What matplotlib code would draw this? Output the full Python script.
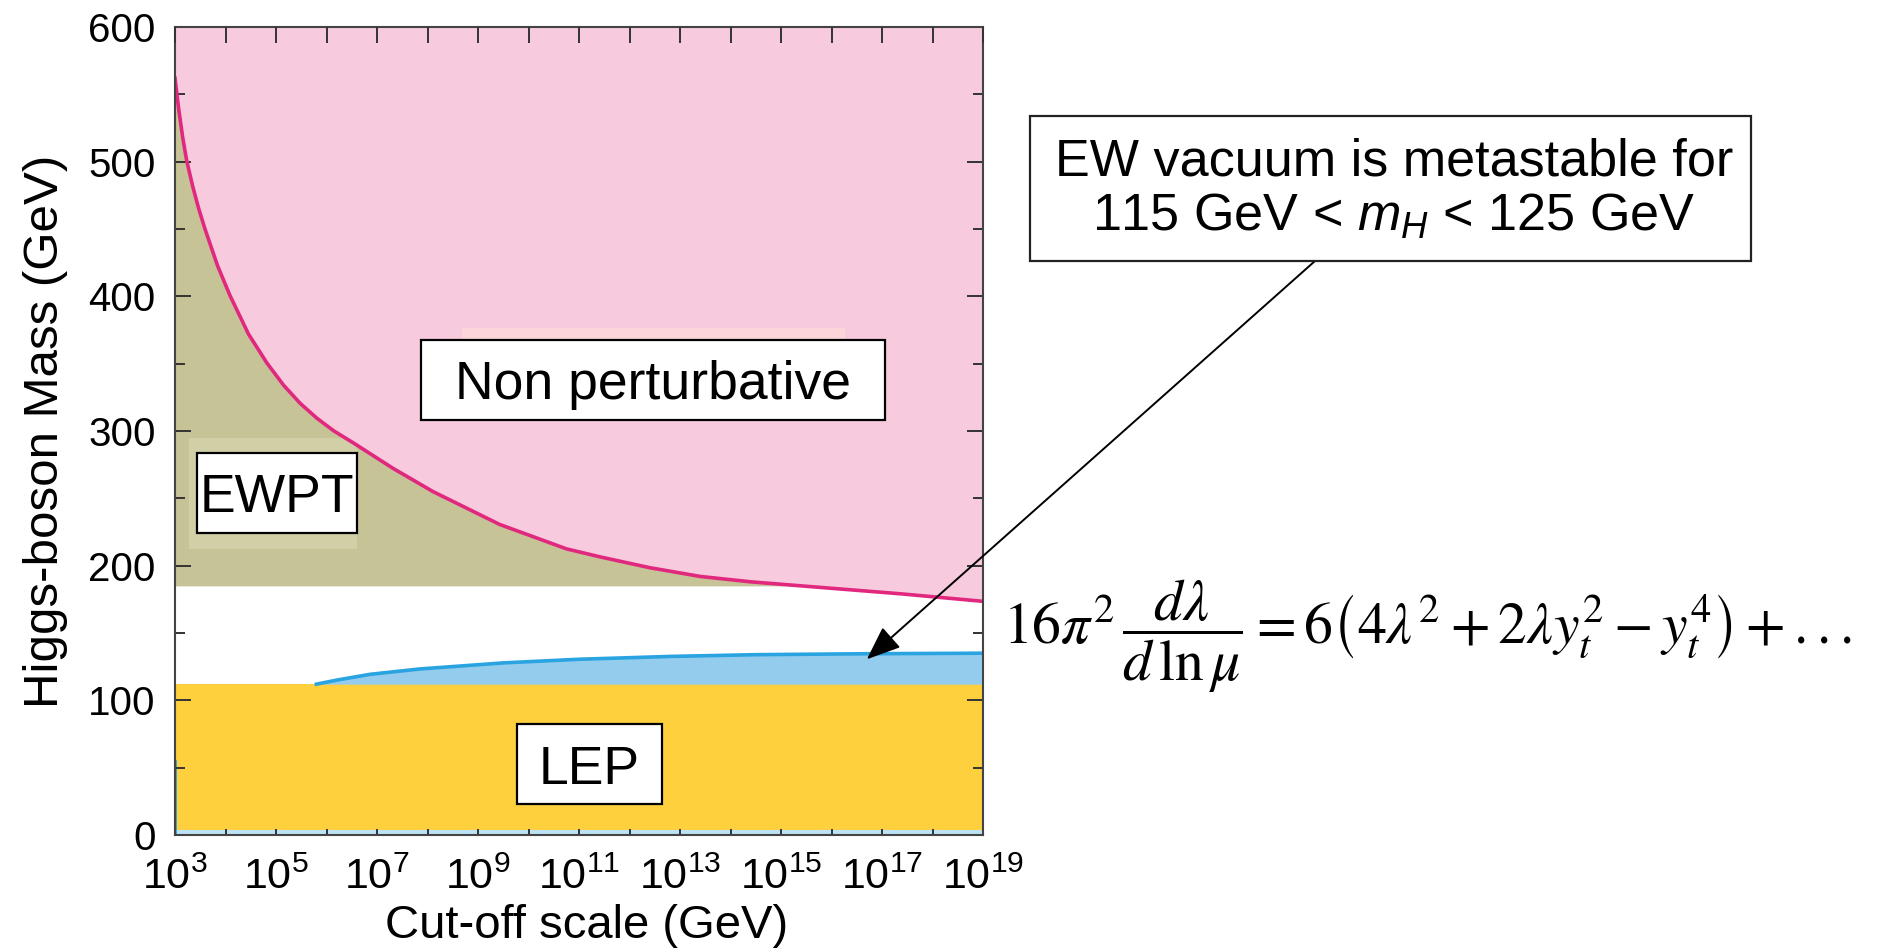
import numpy as np
import matplotlib
matplotlib.use("Agg")
import matplotlib.pyplot as plt
from matplotlib.patches import Rectangle

plt.rcParams['font.family'] = ['Liberation Sans', 'DejaVu Sans']
plt.rcParams['mathtext.fontset'] = 'custom'
plt.rcParams['mathtext.rm'] = 'Liberation Sans'
plt.rcParams['mathtext.it'] = 'Liberation Sans:italic'
plt.rcParams['mathtext.bf'] = 'Liberation Sans:bold'

# --- data ---
# upper (triviality) bound: log10(cut-off / GeV), Higgs mass in GeV
upper_logL = [3.0, 3.07, 3.15, 3.23, 3.35, 3.47, 3.59, 3.84, 4.09, 4.455, 4.82,
              5.15, 5.48, 5.81, 6.14, 6.53, 7.32, 8.11, 9.43, 10.75, 11.42, 12.4,
              13.4, 14.4, 15.4, 17.4, 19.0]
upper_mass = [562, 540, 518.5, 501, 481.8, 465, 450.5, 423, 400.5, 372, 350.5,
              334, 320.5, 309.5, 300.2, 291.2, 272.2, 255, 230.6, 212.5, 206.5,
              198.5, 192, 188, 185, 179, 173.5]

# lower (stability) bound
lower_logL = [5.8, 6.2, 6.86, 7.85, 9.5, 11.0, 12.8, 14.5, 16.7, 19.0]
lower_mass = [112, 115, 119.3, 123.3, 127.8, 130.5, 132.6, 133.9, 134.6, 135.0]

lep_limit = 112      # GeV, LEP exclusion
ewpt_limit = 185     # GeV, electroweak precision tests
lep_floor = 3.5      # bottom of yellow band

x_range = [3, 19]
x_tick_exponents = list(range(3, 20))
x_label_exponents = list(range(3, 20, 2))
y_major = [0, 100, 200, 300, 400, 500, 600]
y_minor = [50, 150, 250, 350, 450, 550]

# colours
c_pink = '#F8CADD'
c_pink_line = '#E0287E'
c_olive = '#C6C397'
c_olive_light = '#D1CFA5'
c_peach = '#FCD5D9'
c_yellow = '#FED03E'
c_blue = '#94CCEE'
c_blue_line = '#2AA3E1'
c_blue_strip = '#BDE2F4'

fig = plt.figure(figsize=(18.77, 9.49), dpi=100)
ax = fig.add_axes([175 / 1877, 114 / 949, 808 / 1877, 808 / 949])

xu = 10.0 ** np.array(upper_logL)
yu = np.array(upper_mass)
xl = 10.0 ** np.array(lower_logL)
yl = np.array(lower_mass)
xfull = 10.0 ** np.array(x_range, dtype=float)

# LEP band and thin strip under it
ax.fill_between(xfull, lep_floor, lep_limit, color=c_yellow, lw=0, zorder=1)
ax.fill_between(xfull, 0, lep_floor, color=c_blue_strip, lw=0, zorder=1)
ax.plot([xfull[0], xfull[0]], [0, 55], color=c_blue_line, lw=2, zorder=1.5)

# metastability band
ax.fill_between(xl, lep_limit, yl, color=c_blue, lw=0, zorder=1)
ax.plot(xl, yl, color=c_blue_line, lw=2.6, zorder=2, solid_joinstyle='round')

# EWPT region under the triviality curve
ax.fill_between(xu, ewpt_limit, yu, where=yu >= ewpt_limit, interpolate=True,
                color=c_olive, lw=0, zorder=1)
ax.add_patch(Rectangle((0.0173, 0.354), 0.208, 0.137, transform=ax.transAxes,
                       color=c_olive_light, lw=0, zorder=1.1))

# non perturbative region
ax.fill_between(xu, yu, 600, color=c_pink, lw=0, zorder=1.2)
ax.add_patch(Rectangle((0.3548, 0.61), 0.4744, 0.017, transform=ax.transAxes,
                       color=c_peach, lw=0, zorder=1.3))
ax.plot(xu, yu, color=c_pink_line, lw=2.6, zorder=2, solid_joinstyle='round')

ax.set_xscale('log')
ax.set_xlim(xfull)
ax.set_ylim(0, 600)

# top ticks are longer than the bottom ones
ax_top = ax.twiny()
ax_top.set_xscale('log')
ax_top.set_xlim(xfull)
ax_top.set_xticks([10.0 ** e for e in x_tick_exponents])
ax_top.xaxis.set_minor_locator(matplotlib.ticker.NullLocator())
ax_top.tick_params(axis='x', which='both', direction='in', length=11.5, width=1.4,
                   labeltop=False, color='#333333')
for s in ax_top.spines.values():
    s.set_visible(False)

ax.set_xticks([10.0 ** e for e in x_tick_exponents])
ax.set_xticklabels([r'$10^{%d}$' % e if e in x_label_exponents else ''
                    for e in x_tick_exponents], fontsize=31)
ax.xaxis.set_minor_locator(matplotlib.ticker.NullLocator())
ax.set_yticks(y_major)
ax.set_yticklabels([str(v) for v in y_major], fontsize=29)
ax.set_yticks(y_minor, minor=True)

ax.tick_params(axis='x', which='both', direction='in', length=4, width=1.4,
               pad=16, color='#333333')
ax.tick_params(axis='y', which='major', direction='in', length=11.5, width=1.4,
               pad=14, left=True, right=True, color='#333333')
ax.tick_params(axis='y', which='minor', direction='in', length=7.5, width=1.4,
               left=True, right=True, color='#333333')
for s in ax.spines.values():
    s.set_color('#444444')
    s.set_linewidth(1.5)
    s.set_zorder(3)

ax.set_xlabel('Cut-off scale (GeV)', fontsize=34)
ax.xaxis.set_label_coords(0.509, -0.086)
ax.set_ylabel('Higgs-boson Mass (GeV)', fontsize=35.5)
ax.yaxis.set_label_coords(-0.133, 0.5)


def label_box(x0, y0, w, h, text):
    ax.add_patch(Rectangle((x0, y0), w, h, transform=ax.transAxes, facecolor='white',
                           edgecolor='black', lw=1.6, zorder=5))
    ax.text(x0 + w / 2, y0 + h / 2, text, transform=ax.transAxes, ha='center',
            va='center_baseline', fontsize=38.5, zorder=6)


label_box(0.304, 0.514, 0.575, 0.0986, 'Non perturbative')
label_box(0.0269, 0.374, 0.1987, 0.099, 'EWPT')
label_box(0.4229, 0.038, 0.1794, 0.0994, 'LEP')

# metastability note with arrow
fig.patches.append(Rectangle((0.5488, 0.7250), 0.3841, 0.1528, transform=fig.transFigure,
                             facecolor='white', edgecolor='#222222', lw=1.6, zorder=5))
fig.text(0.7425, 0.8000, 'EW vacuum is metastable for\n115 GeV < $m_H$ < 125 GeV',
         ha='center', va='center', multialignment='center', fontsize=37.5,
         linespacing=1.15, zorder=6)
ax.annotate('', xy=(10 ** 16.7, 130.5), xycoords='data',
            xytext=(0.7006, 0.7250), textcoords='figure fraction',
            arrowprops=dict(arrowstyle='-|>,head_length=1.05,head_width=0.42',
                            mutation_scale=20, lw=1.4, color='black',
                            shrinkA=0, shrinkB=0),
            annotation_clip=False, zorder=7)

# RG equation for the quartic coupling
fig.text(0.5344, 0.3214,
         r'$16\pi^2\,\dfrac{d\lambda}{d\,\ln\mu} = 6\left(4\lambda^2 + 2\lambda y_t^2 - y_t^4\right) + ...$',
         ha='left', va='baseline', fontsize=41.5, math_fontfamily='stix')

fig.savefig('out.png', dpi=100)
